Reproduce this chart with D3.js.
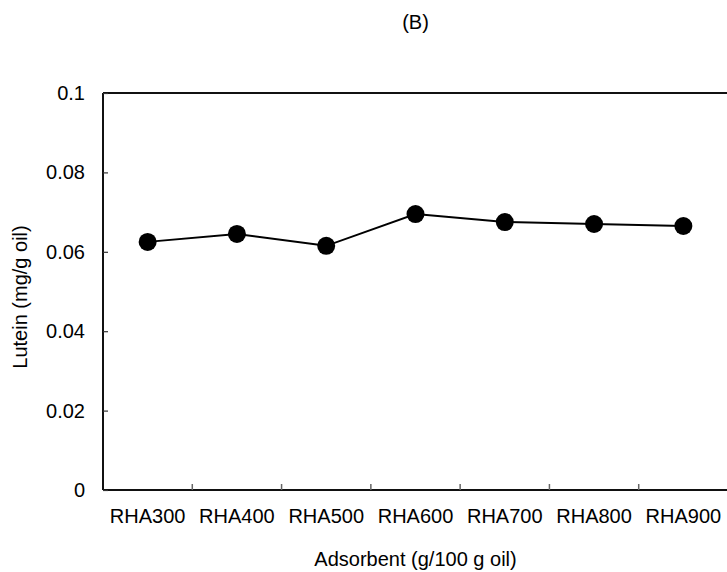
<!DOCTYPE html>
<html>
<head>
<meta charset="utf-8">
<script src="https://cdn.jsdelivr.net/npm/d3@7"></script>
<style>
  body { margin: 0; background: #fff; }
  svg text { font-family: Arial, "Liberation Sans", sans-serif; fill: #000; }
</style>
</head>
<body>
<svg id="chart"></svg>
<script>
'use strict';

const categories = ['RHA300', 'RHA400', 'RHA500', 'RHA600', 'RHA700', 'RHA800', 'RHA900'];
const luteinValues = [0.0625, 0.0645, 0.0615, 0.0695, 0.0675, 0.067, 0.0665];
const yTicks = [0, 0.02, 0.04, 0.06, 0.08, 0.1];

const width = 727, height = 572;
const margin = { top: 93, right: -1, bottom: 82, left: 103 };
const fontSize = 20;

const svg = d3.select('#chart').attr('width', width).attr('height', height);

const x = d3
  .scaleBand()
  .domain(categories)
  .range([margin.left, width - margin.right]);

const y = d3
  .scaleLinear()
  .domain([0, 0.1])
  .range([height - margin.bottom, margin.top]);

// frame (left, top, bottom)
const frame = svg.append('g').attr('stroke', '#111').attr('stroke-width', 2).attr('fill', 'none');
frame.append('line').attr('x1', x.range()[0]).attr('x2', x.range()[0]).attr('y1', y(0.1)).attr('y2', y(0));
frame.append('line').attr('x1', x.range()[0]).attr('x2', x.range()[1]).attr('y1', y(0.1)).attr('y2', y(0.1));
frame.append('line').attr('x1', x.range()[0]).attr('x2', x.range()[1]).attr('y1', y(0)).attr('y2', y(0));

// Y-Axis
svg
  .append('g')
  .attr('transform', `translate(${margin.left},0)`)
  .call(d3.axisLeft(y).tickValues(yTicks).tickFormat((d) => (d === 0 ? '0' : String(d))).tickSize(-5).tickPadding(18))
  .call((g) => g.select('.domain').remove())
  .call((g) => g.attr('font-size', null).attr('font-family', null))
  .call((g) => g.selectAll('.tick line').attr('stroke', '#333').attr('stroke-width', 1.2))
  .call((g) => g.selectAll('.tick text').attr('font-size', fontSize).attr('fill', '#000'));

// X-Axis: ticks at band boundaries
const boundaries = categories.slice(1).map((c) => x(c));
svg
  .append('g')
  .selectAll('line')
  .data(boundaries)
  .join('line')
  .attr('x1', (d) => d)
  .attr('x2', (d) => d)
  .attr('y1', y(0))
  .attr('y2', y(0) - 6)
  .attr('stroke', '#666')
  .attr('stroke-width', 1.5);

svg
  .append('g')
  .selectAll('text')
  .data(categories)
  .join('text')
  .attr('x', (d) => x(d) + x.bandwidth() / 2)
  .attr('y', y(0) + 26)
  .attr('dy', '0.35em')
  .attr('text-anchor', 'middle')
  .attr('font-size', fontSize)
  .text((d) => d);

// line + markers
const line = d3
  .line()
  .x((d, i) => x(categories[i]) + x.bandwidth() / 2)
  .y((d) => y(d));

svg
  .append('path')
  .datum(luteinValues)
  .attr('fill', 'none')
  .attr('stroke', '#000')
  .attr('stroke-width', 2)
  .attr('d', line);

svg
  .append('g')
  .selectAll('circle')
  .data(luteinValues)
  .join('circle')
  .attr('cx', (d, i) => x(categories[i]) + x.bandwidth() / 2)
  .attr('cy', (d) => y(d))
  .attr('r', 9)
  .attr('fill', '#000');

// titles
svg
  .append('text')
  .attr('x', (x.range()[0] + x.range()[1]) / 2)
  .attr('y', 22)
  .attr('dy', '0.35em')
  .attr('text-anchor', 'middle')
  .attr('font-size', fontSize)
  .text('(B)');

svg
  .append('text')
  .attr('x', (x.range()[0] + x.range()[1]) / 2)
  .attr('y', y(0) + 69)
  .attr('dy', '0.35em')
  .attr('text-anchor', 'middle')
  .attr('font-size', fontSize)
  .text('Adsorbent (g/100 g oil)');

svg
  .append('text')
  .attr('transform', `translate(20,297) rotate(-90)`)
  .attr('dy', '0.35em')
  .attr('text-anchor', 'middle')
  .attr('font-size', fontSize)
  .text('Lutein (mg/g oil)');
</script>
</body>
</html>
